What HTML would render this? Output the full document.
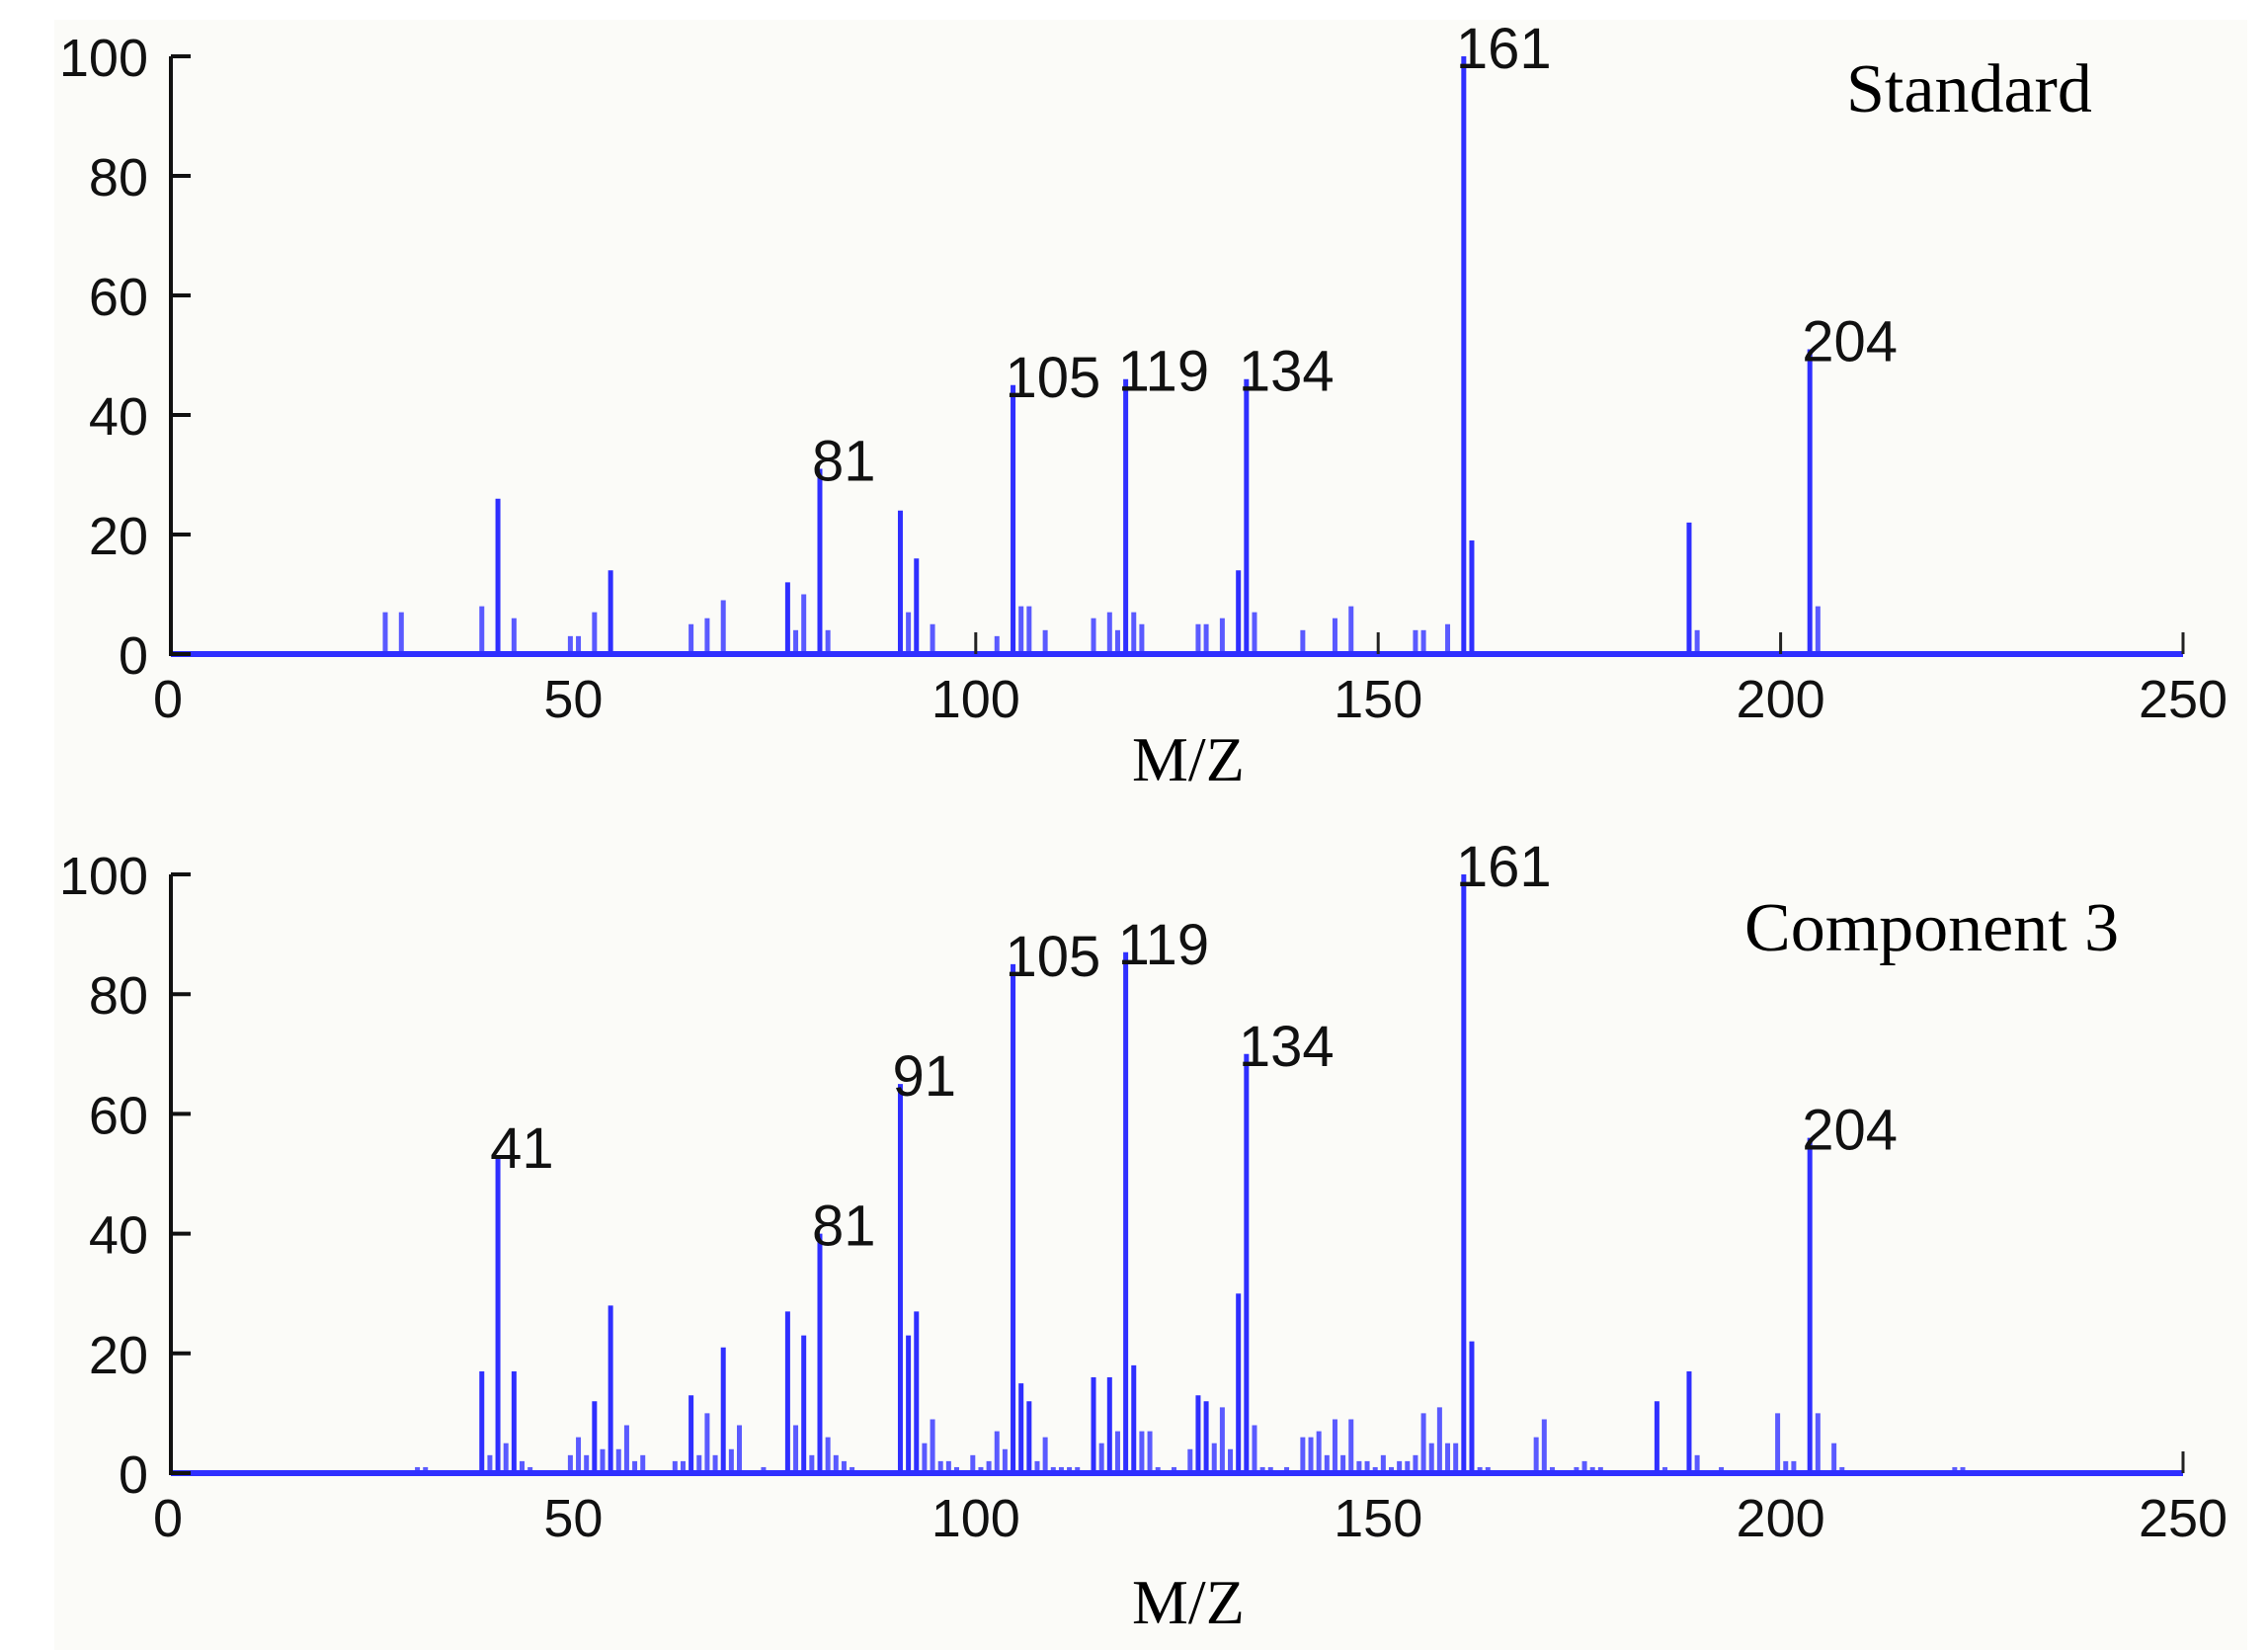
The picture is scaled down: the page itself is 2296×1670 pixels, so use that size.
<!DOCTYPE html>
<html><head><meta charset="utf-8">
<style>
html,body{margin:0;padding:0;background:#fff;}
svg{display:block;}
.t{font-family:"Liberation Sans",sans-serif;font-size:54px;fill:#111;}
.p{font-family:"Liberation Sans",sans-serif;font-size:58px;fill:#111;}
.s{font-family:"Liberation Serif",serif;fill:#000;}
</style></head>
<body>
<svg id="c" width="2296" height="1670" viewBox="0 0 2296 1670" xmlns="http://www.w3.org/2000/svg">
<rect x="0" y="0" width="2296" height="1670" fill="#ffffff"/>
<rect x="55" y="20" width="2220" height="1650" fill="#fbfbf8"/>
<g id="g"></g>
<text class="s" x="1869" y="113" font-size="70">Standard</text>
<text class="s" x="1766" y="962" font-size="70">Component 3</text>
<text class="s" x="1146" y="790" font-size="64">M/Z</text>
<text class="s" x="1146" y="1643" font-size="64">M/Z</text>
</svg>
<script>
(function(){
var g=document.getElementById('g');var ns='http://www.w3.org/2000/svg';
function el(n,a,txt){var e=document.createElementNS(ns,n);for(var k in a)e.setAttribute(k,a[k]);if(txt!=null)e.textContent=txt;g.appendChild(e);return e;}
var X0=173,XS=(2210-173)/250;
function X(m){return X0+m*XS-3;}
function panel(top,base,data,labels,extraTicks){
  var h=base-top;
  data.forEach(function(d){var x=X(d[0]);el('line',{x1:x,y1:base,x2:x,y2:base-h*d[1]/100,stroke:d[1]<12?'#5a5aff':'#2f2fff','stroke-width':5});});
  el('line',{x1:X0,y1:base,x2:X0+250*XS,y2:base,stroke:'#2f2fff','stroke-width':6});
  el('line',{x1:X0,y1:top,x2:X0,y2:base+2,stroke:'#111','stroke-width':4});
  for(var v=0;v<=100;v+=20){var y=base-h*v/100;
    el('line',{x1:X0,y1:y,x2:X0+20,y2:y,stroke:'#111','stroke-width':4});
    el('text',{'class':'t',x:150,y:y+20,'text-anchor':'end'},String(v));}
  extraTicks.forEach(function(m){var x=X0+m*XS;el('line',{x1:x,y1:base,x2:x,y2:base-22,stroke:'#222','stroke-width':3});});
  [0,50,100,150,200,250].forEach(function(m){el('text',{'class':'t',x:X0+m*XS+(m==0?-3:0),y:base+64,'text-anchor':'middle'},String(m));});
  labels.forEach(function(m){var d=data.filter(function(a){return a[0]==m;})[0];
    el('text',{'class':'p',x:X(m)-8,y:base-h*d[1]/100+12},String(m));});
}
var top=[[27,7],[29,7],[39,8],[41,26],[43,6],[50,3],[51,3],[53,7],[55,14],[65,5],[67,6],[69,9],[77,12],[78,4],[79,10],[81,31],[82,4],[91,24],[92,7],[93,16],[95,5],[103,3],[105,45],[106,8],[107,8],[109,4],[115,6],[117,7],[118,4],[119,46],[120,7],[121,5],[128,5],[129,5],[131,6],[133,14],[134,46],[135,7],[141,4],[145,6],[147,8],[155,4],[156,4],[159,5],[161,100],[162,19],[189,22],[190,4],[204,51],[205,8]];
var bot=[[31,1],[32,1],[39,17],[40,3],[41,53],[42,5],[43,17],[44,2],[45,1],[50,3],[51,6],[52,3],[53,12],[54,4],[55,28],[56,4],[57,8],[58,2],[59,3],[63,2],[64,2],[65,13],[66,3],[67,10],[68,3],[69,21],[70,4],[71,8],[74,1],[77,27],[78,8],[79,23],[80,3],[81,40],[82,6],[83,3],[84,2],[85,1],[91,65],[92,23],[93,27],[94,5],[95,9],[96,2],[97,2],[98,1],[100,3],[101,1],[102,2],[103,7],[104,4],[105,85],[106,15],[107,12],[108,2],[109,6],[110,1],[111,1],[112,1],[113,1],[115,16],[116,5],[117,16],[118,7],[119,87],[120,18],[121,7],[122,7],[123,1],[125,1],[127,4],[128,13],[129,12],[130,5],[131,11],[132,4],[133,30],[134,70],[135,8],[136,1],[137,1],[139,1],[141,6],[142,6],[143,7],[144,3],[145,9],[146,3],[147,9],[148,2],[149,2],[150,1],[151,3],[152,1],[153,2],[154,2],[155,3],[156,10],[157,5],[158,11],[159,5],[160,5],[161,100],[162,22],[163,1],[164,1],[170,6],[171,9],[172,1],[175,1],[176,2],[177,1],[178,1],[185,12],[186,1],[189,17],[190,3],[193,1],[200,10],[201,2],[202,2],[204,56],[205,10],[207,5],[208,1],[222,1],[223,1]];
panel(57,662,top,[81,105,119,134,161,204],[100,150,200,250]);
panel(885,1491,bot,[41,81,91,105,119,134,161,204],[250]);
})();
</script>
</body></html>
